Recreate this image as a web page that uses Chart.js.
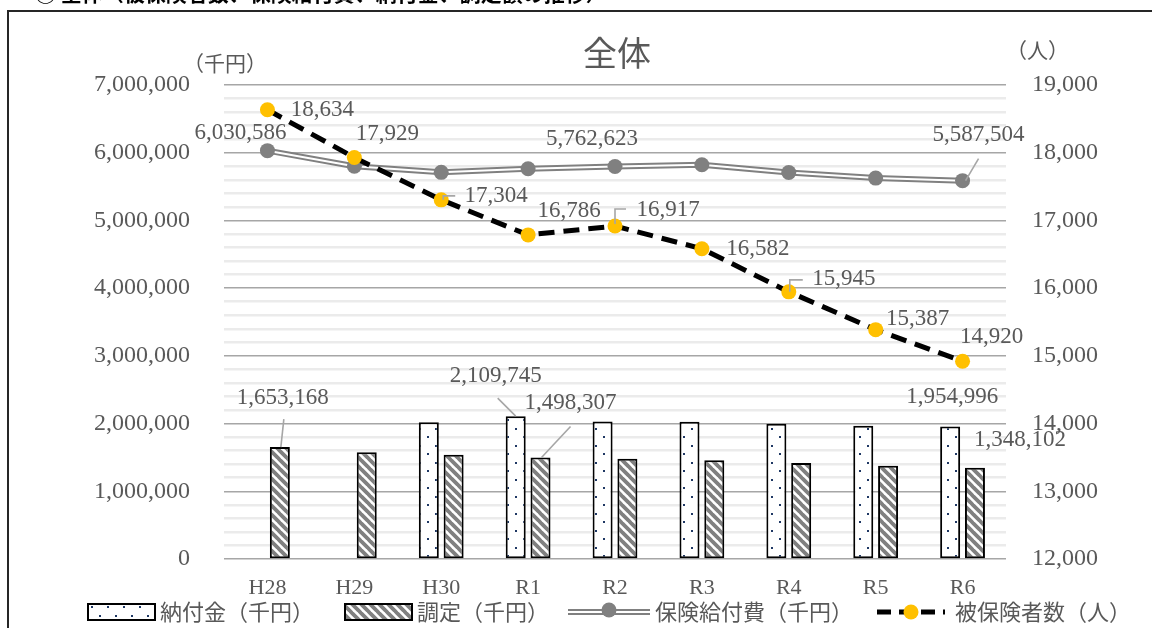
<!DOCTYPE html>
<html lang="ja">
<head>
<meta charset="utf-8">
<script src="https://cdn.jsdelivr.net/npm/chart.js@4.4.1/dist/chart.umd.min.js"></script>
<style>
  html, body { margin: 0; padding: 0; background: #fff; }
  #wrap { width: 1152px; height: 628px; position: relative; }
</style>
</head>
<body>
<div id="wrap"><canvas id="c" width="1152" height="628"></canvas></div>
<script>
// ---- data ----
const years = ['H28', 'H29', 'H30', 'R1', 'R2', 'R3', 'R4', 'R5', 'R6'];
const nofukin = [null, null, 2018000, 2109745, 2030000, 2026000, 1996000, 1968000, 1954996];   // 納付金（千円）
const chotei = [1653168, 1578000, 1540000, 1498307, 1481000, 1460000, 1416000, 1378000, 1348102]; // 調定（千円）
const kyufuhi = [6030586, 5800000, 5710000, 5762623, 5796000, 5822000, 5708000, 5625000, 5587504]; // 保険給付費（千円）
const hihokensha = [18634, 17929, 17304, 16786, 16917, 16582, 15945, 15387, 14920];  // 被保険者数（人）
const leftTicks = [0, 1000000, 2000000, 3000000, 4000000, 5000000, 6000000, 7000000];
const rightTicks = [12000, 13000, 14000, 15000, 16000, 17000, 18000, 19000];

const SERIF = '"Liberation Serif", "DejaVu Serif", serif';
const JP = '"Noto Sans CJK JP", "Noto Sans", sans-serif';
const TEXT = '#595959';

// ---- fill patterns for the bars ----
function makeDotPattern() {
  const t = document.createElement('canvas');
  t.width = 16; t.height = 17;
  const g = t.getContext('2d');
  g.fillStyle = '#fff'; g.fillRect(0, 0, 16, 17);
  g.fillStyle = '#1f3864';
  g.fillRect(3, 3, 2, 2);
  g.fillRect(11, 11, 2, 2);
  return t;
}
function makeHatchPattern() {
  const s = 9;
  const t = document.createElement('canvas');
  t.width = s; t.height = s;
  const g = t.getContext('2d');
  g.fillStyle = '#fff'; g.fillRect(0, 0, s, s);
  g.strokeStyle = '#808080';
  g.lineWidth = 3.8;
  g.beginPath();
  for (let k = -1; k <= 1; k++) {
    g.moveTo(k * s - 1, -1);
    g.lineTo(k * s + s + 1, s + 1);
  }
  g.stroke();
  return t;
}
const ctx = document.getElementById('c').getContext('2d');
const dotFill = ctx.createPattern(makeDotPattern(), 'repeat');
const hatchFill = ctx.createPattern(makeHatchPattern(), 'repeat');

// ---- data label placement (text centre and leader line, relative to the mark) ----
const labelPlacement = [
  { ds: 5, i: 0, dx: 55, dy: 0 },
  { ds: 5, i: 1, dx: 33, dy: -24 },
  { ds: 5, i: 2, dx: 55, dy: -4, leader: [[2, 0], [2, -4], [14, -4]] },
  { ds: 5, i: 3, dx: 41, dy: -24 },
  { ds: 5, i: 4, dx: 53, dy: -16, leader: [[0, -2], [0, -17], [11, -17]] },
  { ds: 5, i: 5, dx: 56, dy: 0 },
  { ds: 5, i: 6, dx: 55, dy: -13, leader: [[1, 0], [1, -12], [14, -12]] },
  { ds: 5, i: 7, dx: 42, dy: -11 },
  { ds: 5, i: 8, dx: 29, dy: -24 },
  { ds: 4, i: 0, dx: -27, dy: -18 },
  { ds: 4, i: 3, dx: 64, dy: -30 },
  { ds: 4, i: 8, dx: 16, dy: -46, leader: [[3, 0], [16, -22]] },
  { ds: 1, i: 0, dx: 3, dy: -49, leader: [[1, 0], [4, -28]] },
  { ds: 0, i: 3, dx: -20, dy: -40, leader: [[0, 0], [-18, -18]] },
  { ds: 1, i: 3, dx: 30, dy: -55, leader: [[1, 0], [30, -31]] },
  { ds: 0, i: 8, dx: 2, dy: -30 },
  { ds: 1, i: 8, dx: 45, dy: -28 }
];

const dataLabels = {
  id: 'dataLabels',
  afterDatasetsDraw(chart) {
    const c = chart.ctx;
    c.save();
    c.font = '23px ' + SERIF;
    c.fillStyle = TEXT;
    c.textAlign = 'center';
    c.textBaseline = 'middle';
    labelPlacement.forEach(p => {
      const el = chart.getDatasetMeta(p.ds).data[p.i];
      const v = chart.data.datasets[p.ds].data[p.i];
      if (!el || v == null) return;
      if (p.leader) {
        c.strokeStyle = '#a6a6a6';
        c.lineWidth = 1.6;
        c.beginPath();
        p.leader.forEach((q, k) => {
          const fn = k === 0 ? 'moveTo' : 'lineTo';
          c[fn](el.x + q[0], el.y + q[1]);
        });
        c.stroke();
      }
      c.fillText(v.toLocaleString('en-US'), el.x + p.dx, el.y + p.dy);
    });
    c.restore();
  }
};

// ---- frame, headings, unit captions and legend ----
function legendSymbol(c, kind, x, y) {
  if (kind === 'dot' || kind === 'hatch') {
    c.fillStyle = kind === 'dot' ? dotFill : hatchFill;
    c.fillRect(x, y - 8, 67, 16);
    c.strokeStyle = '#000';
    c.lineWidth = 2;
    c.strokeRect(x, y - 8, 67, 16);
  } else if (kind === 'gray') {
    c.strokeStyle = '#808080'; c.lineWidth = 6;
    c.beginPath(); c.moveTo(x, y); c.lineTo(x + 82, y); c.stroke();
    c.strokeStyle = '#fff'; c.lineWidth = 2;
    c.beginPath(); c.moveTo(x, y); c.lineTo(x + 82, y); c.stroke();
    c.fillStyle = '#808080';
    c.beginPath(); c.arc(x + 41, y - 2, 7.5, 0, Math.PI * 2); c.fill();
  } else {
    c.strokeStyle = '#000'; c.lineWidth = 5;
    c.setLineDash([14, 8]);
    c.beginPath(); c.moveTo(x, y); c.lineTo(x + 68, y); c.stroke();
    c.setLineDash([]);
    c.fillStyle = '#FFC000';
    c.beginPath(); c.arc(x + 34, y, 7.5, 0, Math.PI * 2); c.fill();
  }
}

const decorations = {
  id: 'decorations',
  beforeDraw(chart) {
    const c = chart.ctx;
    c.save();
    c.fillStyle = '#fff';
    c.fillRect(0, 0, chart.width, chart.height);
    // heading above the frame (partly cut off by the top edge)
    c.fillStyle = '#000';
    c.font = 'bold 21px ' + JP;
    c.textAlign = 'left';
    c.textBaseline = 'alphabetic';
    c.fillText('① 全体（被保険者数、保険給付費、納付金、調定額の推移）', 35, 1);
    // frame
    c.strokeStyle = '#262626';
    c.lineWidth = 2;
    c.beginPath();
    c.moveTo(8, chart.height + 2);
    c.lineTo(8, 11);
    c.lineTo(chart.width + 2, 11);
    c.stroke();
    c.restore();
  },
  afterDraw(chart) {
    const c = chart.ctx;
    c.save();
    // chart title
    c.fillStyle = TEXT;
    c.font = '34px ' + JP;
    c.textAlign = 'center';
    c.textBaseline = 'middle';
    c.fillText('全体', 617, 53);
    // axis unit captions
    c.font = '21px ' + JP;
    c.textAlign = 'left';
    c.fillText('（千円）', 183, 63);
    c.fillText('（人）', 1006, 50);
    // legend
    const ds = chart.data.datasets;
    const items = [
      { kind: 'dot', x: 88, tx: 160, text: ds[0].label },
      { kind: 'hatch', x: 345, tx: 417, text: ds[1].label },
      { kind: 'gray', x: 568, tx: 655, text: ds[2].label },
      { kind: 'dash', x: 877, tx: 955, text: ds[5].label }
    ];
    const ly = 612;
    items.forEach(it => {
      legendSymbol(c, it.kind, it.x, ly);
      c.fillStyle = TEXT;
      c.font = '22px ' + JP;
      c.textAlign = 'left';
      c.textBaseline = 'middle';
      c.fillText(it.text, it.tx, ly);
    });
    c.restore();
  }
};

const isMajor = v => leftTicks.includes(v);

new Chart(ctx, {
  data: {
    labels: years,
    datasets: [
      {
        type: 'bar', label: '納付金（千円）', data: nofukin, yAxisID: 'y',
        backgroundColor: dotFill, borderColor: '#000', borderWidth: 2, borderSkipped: false,
        categoryPercentage: 0.571, barPercentage: 0.806, order: 6
      },
      {
        type: 'bar', label: '調定（千円）', data: chotei, yAxisID: 'y',
        backgroundColor: hatchFill, borderColor: '#000', borderWidth: 2, borderSkipped: false,
        categoryPercentage: 0.571, barPercentage: 0.806, order: 6
      },
      {
        type: 'line', label: '保険給付費（千円）', data: kyufuhi, yAxisID: 'y',
        borderColor: '#808080', borderWidth: 6, pointRadius: 0, tension: 0, order: 5
      },
      {
        type: 'line', label: '保険給付費（千円）', data: kyufuhi, yAxisID: 'y',
        borderColor: '#ffffff', borderWidth: 2, pointRadius: 0, tension: 0, order: 4
      },
      {
        type: 'line', label: '保険給付費（千円）', data: kyufuhi, yAxisID: 'y',
        showLine: false, pointRadius: 7.5, pointBackgroundColor: '#808080',
        pointBorderWidth: 0, order: 3
      },
      {
        type: 'line', label: '被保険者数（人）', data: hihokensha, yAxisID: 'y2',
        borderColor: '#000', borderWidth: 5, borderDash: [16, 9], tension: 0,
        pointRadius: 7.5, pointBackgroundColor: '#FFC000', pointBorderWidth: 0, order: 1
      }
    ]
  },
  options: {
    responsive: false,
    animation: false,
    devicePixelRatio: 1,
    layout: { padding: { top: 85, left: 0, right: 0, bottom: 0 } },
    plugins: {
      legend: { display: false },
      tooltip: { enabled: false },
      title: { display: false }
    },
    scales: {
      x: {
        grid: { display: false },
        border: { display: false },
        ticks: { color: TEXT, font: { family: SERIF, size: 22 }, padding: 8 },
        afterFit(s) { s.height = 69; }
      },
      y: {
        position: 'left',
        min: leftTicks[0], max: leftTicks[leftTicks.length - 1],
        border: { display: false },
        grid: {
          drawTicks: false,
          color: c => isMajor(c.tick.value) ? '#a6a6a6' : '#ebebeb',
          lineWidth: c => isMajor(c.tick.value) ? 1.4 : 2.5
        },
        ticks: {
          stepSize: 200000, autoSkip: false, padding: 34, color: TEXT,
          font: { family: SERIF, size: 24 },
          callback: v => isMajor(v) ? v.toLocaleString('en-US') : ''
        },
        afterFit(s) { s.width = 224; }
      },
      y2: {
        position: 'right',
        min: rightTicks[0], max: rightTicks[rightTicks.length - 1],
        border: { display: false },
        grid: { drawOnChartArea: false, drawTicks: false },
        ticks: {
          stepSize: 1000, padding: 26, color: TEXT,
          font: { family: SERIF, size: 24 },
          callback: v => v.toLocaleString('en-US')
        },
        afterFit(s) { s.width = 146; }
      }
    }
  },
  plugins: [decorations, dataLabels]
});
</script>
</body>
</html>
